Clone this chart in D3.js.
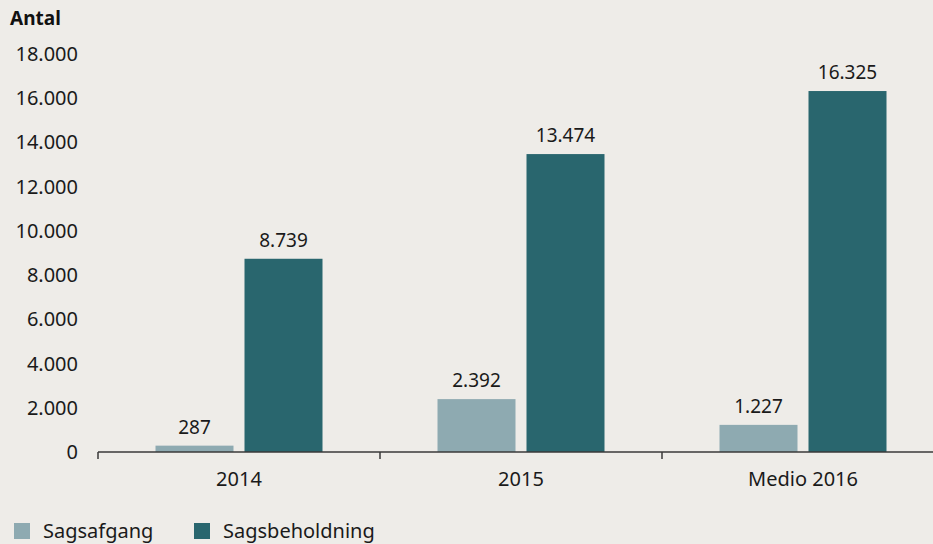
<!DOCTYPE html>
<html>
<head>
<meta charset="utf-8">
<script src="https://cdn.jsdelivr.net/npm/d3@7"></script>
<style>
  body { margin: 0; background: #eeece8; }
  svg { display: block; font-family: "Noto Sans", "DejaVu Sans", sans-serif; }
</style>
</head>
<body>
<div id="chart"></div>
<script>
const categories = ["2014", "2015", "Medio 2016"];
const seriesNames = ["Sagsafgang", "Sagsbeholdning"];
const sagsafgang = [287, 2392, 1227];
const sagsbeholdning = [8739, 13474, 16325];
const yTicks = [0, 2000, 4000, 6000, 8000, 10000, 12000, 14000, 16000, 18000];

const width = 933, height = 544;
const colors = ["#8eaab1", "#29666e"];
const fmt = v => d3.format(",")(v).replace(/,/g, ".");

const svg = d3.select("#chart").append("svg")
  .attr("width", width)
  .attr("height", height);

const x = d3.scaleBand()
  .domain(categories)
  .range([98, 944])
  .paddingInner(0)
  .paddingOuter(0);

const xInner = d3.scaleBand()
  .domain(seriesNames)
  .range([0, 167])
  .paddingInner(11 / 89);

const y = d3.scaleLinear()
  .domain([0, 18000])
  .range([452, 54]);

// y labels (no axis line)
svg.selectAll(".ylab")
  .data(yTicks)
  .enter()
  .append("text")
  .attr("x", 78)
  .attr("y", d => y(d))
  .attr("dy", "0.35em")
  .attr("text-anchor", "end")
  .attr("font-size", "20px")
  .attr("fill", "#1a1a1a")
  .text(d => fmt(d));

svg.append("text")
  .attr("x", 10)
  .attr("y", 25)
  .attr("font-size", "19px")
  .attr("font-weight", "bold")
  .attr("fill", "#111")
  .text("Antal");

const data = categories.map((c, i) => ({
  cat: c,
  vals: [
    { name: seriesNames[0], value: sagsafgang[i] },
    { name: seriesNames[1], value: sagsbeholdning[i] }
  ]
}));

const groups = svg.selectAll(".grp")
  .data(data)
  .enter()
  .append("g")
  .attr("transform", d => `translate(${x(d.cat) + x.bandwidth() / 2 - 83.5},0)`);

groups.selectAll("rect")
  .data(d => d.vals)
  .enter()
  .append("rect")
  .attr("x", d => xInner(d.name))
  .attr("width", xInner.bandwidth())
  .attr("y", d => y(d.value))
  .attr("height", d => y(0) - y(d.value))
  .attr("fill", (d, i) => colors[i]);

groups.selectAll(".val")
  .data(d => d.vals)
  .enter()
  .append("text")
  .attr("x", d => xInner(d.name) + xInner.bandwidth() / 2)
  .attr("y", d => y(d.value) - 12)
  .attr("text-anchor", "middle")
  .attr("font-size", "19px")
  .attr("fill", "#1a1a1a")
  .text(d => fmt(d.value));

// x axis
const xAxis = svg.append("g").attr("transform", `translate(0,${y(0)})`);
xAxis.append("line")
  .attr("x1", 98).attr("x2", width)
  .attr("stroke", "#3a3a3a").attr("stroke-width", 1.5);
xAxis.selectAll(".tick")
  .data(categories)
  .enter()
  .append("line")
  .attr("x1", d => x(d)).attr("x2", d => x(d))
  .attr("y1", 0).attr("y2", 7)
  .attr("stroke", "#3a3a3a").attr("stroke-width", 1.5);
xAxis.selectAll(".xlab")
  .data(categories)
  .enter()
  .append("text")
  .attr("x", d => x(d) + x.bandwidth() / 2)
  .attr("y", 34)
  .attr("text-anchor", "middle")
  .attr("font-size", "20px")
  .attr("fill", "#1a1a1a")
  .text(d => d);

// legend
const legendX = [14, 194];
const legend = svg.selectAll(".leg")
  .data(seriesNames)
  .enter()
  .append("g")
  .attr("transform", (d, i) => `translate(${legendX[i]},523)`);
legend.append("rect")
  .attr("width", 16).attr("height", 16)
  .attr("fill", (d, i) => colors[i]);
legend.append("text")
  .attr("x", 29)
  .attr("y", 8)
  .attr("dy", "0.35em")
  .attr("font-size", "20px")
  .attr("fill", "#1a1a1a")
  .text(d => d);
</script>
</body>
</html>
